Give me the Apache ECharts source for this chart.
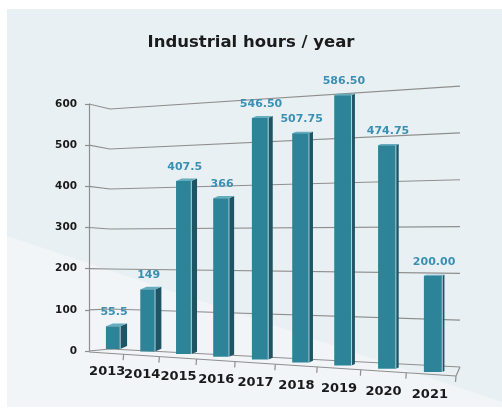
<!DOCTYPE html>
<html>
<head>
<meta charset="utf-8">
<script src="https://cdn.jsdelivr.net/npm/echarts@6/dist/echarts.min.js"></script>
<style>
html,body{margin:0;padding:0;background:#fff;}
#chart{width:502px;height:410px;}
</style>
</head>
<body>
<div id="chart"></div>
<script>
// ---- data ----
const years = ['2013','2014','2015','2016','2017','2018','2019','2020','2021'];
const hours = [55.5, 149, 407.5, 366, 546.5, 507.75, 586.5, 474.75, 200];
const valueLabels = ['55.5','149','407.5','366','546.50','507.75','586.50','474.75','200.00'];
const yTicks = [0, 100, 200, 300, 400, 500, 600];

// ---- perspective settings (layout only) ----
const PA = 284.1, PB = 96.2, PC = -0.1676;
function projX(t){ return (PA*t + PB)/(PC*t + 1); }
function heightRatio(t){ return 0.984/(1 + PC*t); }
function baseY(X, y0){ return y0 - 2 + 0.0719*(X - 113); }

const FRONT = '#2d8498', SIDE = '#1d5565', TOP = '#66acbf';
const GRID = '#8e8e8e';

const chart = echarts.init(document.getElementById('chart'), null, {renderer:'canvas'});

function renderBar(params, api){
  const cs = params.coordSys;
  const i = api.value(0), v = api.value(1);
  const pv = api.coord([i, v]);
  const p0 = api.coord([i, 0]);
  const t = (p0[0] - cs.x)/cs.width;
  const X = projX(t);
  const yb = baseY(X, p0[1]);
  const H = (p0[1] - pv[1]) * heightRatio(t);
  const yt = yb - H;
  const w = 14 + 4.6*t, sd = 7.2 - 5.3*t, dy = sd*0.42;
  const xl = X - w/2, xr = X + w/2;
  return {
    type:'group',
    children:[
      {type:'polygon', shape:{points:[[xr,yt],[xr+sd,yt-dy],[xr+sd,yb-dy],[xr,yb]]}, style:{fill:SIDE}},
      {type:'polygon', shape:{points:[[xl,yt],[xl+sd,yt-dy],[xr+sd,yt-dy],[xr,yt]]}, style:{fill:TOP}},
      {type:'rect', shape:{x:xl, y:yt, width:w, height:H}, style:{fill:FRONT}},
      {type:'line', shape:{x1:xr, y1:yt, x2:xr, y2:yb}, style:{stroke:'rgba(220,240,245,0.7)', lineWidth:1}},
      {type:'text', x:X+1, y:yt-14, style:{text:valueLabels[i], fill:'#3a8fb3', font:'bold 11px "DejaVu Sans"', align:'center', verticalAlign:'middle'}},
      {type:'text', x:X-6+3*t, y:yb+23, style:{text:years[i], fill:'#1a1a1a', font:'bold 13px "DejaVu Sans"', align:'center', verticalAlign:'middle'}}
    ]
  };
}

function renderGrid(params, api){
  const cs = params.coordSys;
  const v = api.value(1);
  const pv = api.coord([0, v]);
  const p0 = api.coord([0, 0]);
  const h = p0[1] - pv[1];
  const xL = cs.x, xW = cs.x + 21, xR = cs.x + cs.width;
  const yW = p0[1] - 2 - h*0.9716;
  const yR = p0[1] + 16 - h*1.137;
  const stroke = {stroke:GRID, lineWidth:1.2, fill:null};
  const children = [
    {type:'polyline', shape:{points:[[xL,pv[1]],[xW,yW],[xR,yR]]}, style:stroke}
  ];
  if (v === 0){
    const fy0 = p0[1] + 1, fx1 = xR - 4, fy1 = p0[1] + 25;
    children.push({type:'line', shape:{x1:xL, y1:fy0, x2:fx1, y2:fy1}, style:stroke});
    children.push({type:'line', shape:{x1:xR, y1:yR, x2:fx1, y2:fy1}, style:stroke});
    for (let j = 1; j <= years.length; j++){
      const tt = j/years.length;
      let tx = j === years.length ? fx1 : projX(tt) - 7 + 4*tt;
      const ty = fy0 + (tx - xL)*(fy1 - fy0)/(fx1 - xL);
      children.push({type:'line', shape:{x1:tx, y1:ty, x2:tx - 0.5, y2:ty + 6}, style:stroke});
    }
  }
  return {type:'group', children};
}

const option = {
  backgroundColor:'#ffffff',
  animation:false,
  graphic:[
    {type:'rect', z:-10, shape:{x:7, y:9, width:495, height:398}, style:{fill:'#e9f0f3'}},
    {type:'polygon', z:-9, shape:{points:[[7,236],[7,407],[502,407],[502,402]]}, style:{fill:'#f1f5f7'}}
  ],
  title:{
    text:'Industrial hours / year', left:'center', top:29,
    textStyle:{fontFamily:'DejaVu Sans', fontWeight:'bold', fontSize:16.5, color:'#1b1b1b'}
  },
  grid:{left:89, right:42, top:104, bottom:59, containLabel:false},
  xAxis:{type:'category', data:years, show:false},
  yAxis:{
    type:'value', min:0, max:600, interval:100,
    axisLine:{show:true, lineStyle:{color:GRID, width:1.2}},
    axisTick:{show:true, length:4, lineStyle:{color:GRID, width:1.2}},
    axisLabel:{margin:12, fontFamily:'DejaVu Sans', fontWeight:'bold', fontSize:10.5, color:'#1a1a1a'},
    splitLine:{show:false}
  },
  series:[
    {type:'custom', name:'grid', renderItem:renderGrid, data:yTicks.map(v => [0, v]), clip:false, silent:true, z:1},
    {type:'custom', name:'Industrial hours', renderItem:renderBar, data:hours.map((v,i) => [i, v]), clip:false, z:2}
  ]
};
chart.setOption(option);
</script>
</body>
</html>
